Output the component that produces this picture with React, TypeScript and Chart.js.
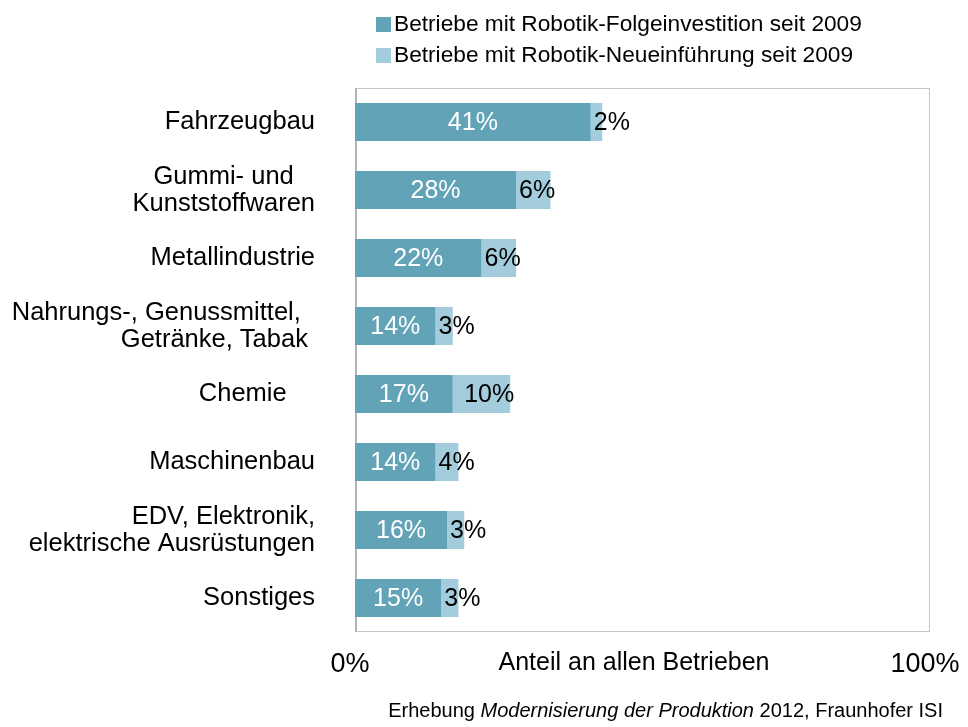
import React, { useEffect, useRef } from "react";
import { Chart, registerables } from "chart.js";

Chart.register(...registerables);

const categories: (string | string[])[] = [
  "Fahrzeugbau",
  ["Gummi- und   ", "Kunststoffwaren"],
  "Metallindustrie",
  ["Nahrungs-, Genussmittel,  ", "Getränke, Tabak "],
  "Chemie    ",
  "Maschinenbau",
  ["EDV, Elektronik,", "elektrische Ausrüstungen"],
  "Sonstiges",
];
const folgeinvestition = [41, 28, 22, 14, 17, 14, 16, 15];
const neueinfuehrung = [2, 6, 6, 3, 10, 4, 3, 3];
const seriesNames = [
  "Betriebe mit Robotik-Folgeinvestition seit 2009",
  "Betriebe mit Robotik-Neueinführung seit 2009",
];
const xTickLabels: Record<number, string> = { 0: "0%", 100: "100%" };
const axisTitle = "Anteil an allen Betrieben";

const DARK = "#62a3b7";
const LIGHT = "#a3cddc";
const FONT = "'Liberation Sans', Arial, sans-serif";

const decorPlugin = {
  id: "decor",
  beforeDatasetsDraw(chart: any) {
    const { ctx, chartArea } = chart;
    const { left, right, top, bottom } = chartArea;
    ctx.save();
    ctx.strokeStyle = "#c6c6c6";
    ctx.lineWidth = 1;
    ctx.strokeRect(left + 0.5, top + 0.5, right - left - 1, bottom - top - 1);
    ctx.strokeStyle = "#b4b4b4";
    ctx.lineWidth = 2;
    ctx.beginPath();
    ctx.moveTo(left + 1, top);
    ctx.lineTo(left + 1, bottom);
    ctx.stroke();
    ctx.restore();
  },
  afterDatasetsDraw(chart: any) {
    const { ctx } = chart;
    ctx.save();
    ctx.font = `25px ${FONT}`;
    ctx.textBaseline = "middle";
    const m0 = chart.getDatasetMeta(0);
    const m1 = chart.getDatasetMeta(1);
    ctx.textAlign = "center";
    m0.data.forEach((bar: any, i: number) => {
      const txt = folgeinvestition[i] + "%";
      ctx.fillStyle = "#ffffff";
      ctx.fillText(txt, (bar.base + bar.x) / 2, bar.y + 1);
    });
    ctx.textAlign = "left";
    m1.data.forEach((bar: any, i: number) => {
      const txt = neueinfuehrung[i] + "%";
      const w = ctx.measureText(txt).width;
      const start = Math.min(bar.base, bar.x);
      const end = Math.max(bar.base, bar.x);
      const lx = Math.max(start + 3, end - w + 4);
      ctx.fillStyle = "#000000";
      ctx.fillText(txt, lx, bar.y + 1);
    });
    ctx.restore();
  },
  afterDraw(chart: any) {
    const { ctx } = chart;
    ctx.save();
    // legend
    ctx.font = `22.7px ${FONT}`;
    ctx.textBaseline = "middle";
    ctx.textAlign = "left";
    const colors = [DARK, LIGHT];
    const rows = [24, 55];
    seriesNames.forEach((name, i) => {
      ctx.fillStyle = colors[i];
      ctx.fillRect(376, rows[i] - 7, 15, 15);
      ctx.fillStyle = "#000000";
      ctx.fillText(name, 394, rows[i] + 1);
    });
    // axis title on tick line
    ctx.font = `25px ${FONT}`;
    ctx.textAlign = "center";
    ctx.fillText(axisTitle, 634, 663);
    // footer
    ctx.textAlign = "right";
    const parts: [string, string][] = [
      ["Erhebung ", "normal"],
      ["Modernisierung der Produktion", "italic"],
      [" 2012, Fraunhofer ISI", "normal"],
    ];
    let x = 943;
    for (let k = parts.length - 1; k >= 0; k--) {
      const [t, style] = parts[k];
      ctx.font = `${style} 20px ${FONT}`;
      ctx.fillText(t, x, 711);
      x -= ctx.measureText(t).width;
    }
    ctx.restore();
  },
};

export default function App() {
  const ref = useRef<HTMLCanvasElement>(null);
  useEffect(() => {
    if (!ref.current) return;
    const chart = new Chart(ref.current, {
      type: "bar",
      data: {
        labels: categories,
        datasets: [
          {
            label: seriesNames[0],
            data: folgeinvestition,
            backgroundColor: DARK,
            barPercentage: 0.56,
            categoryPercentage: 1,
          },
          {
            label: seriesNames[1],
            data: neueinfuehrung,
            backgroundColor: LIGHT,
            barPercentage: 0.56,
            categoryPercentage: 1,
          },
        ],
      },
      options: {
        indexAxis: "y",
        animation: false,
        responsive: true,
        maintainAspectRatio: false,
        layout: { padding: { top: 88, right: 38, bottom: 0, left: 0 } },
        plugins: {
          legend: { display: false },
          tooltip: { enabled: false },
        },
        scales: {
          x: {
            stacked: true,
            min: 0,
            max: 100,
            grid: { display: false, drawTicks: false },
            border: { display: false },
            afterFit: (scale: any) => {
              scale.height = 95;
              scale.paddingLeft = 0;
              scale.paddingRight = 0;
            },
            ticks: {
              stepSize: 100,
              padding: 16,
              labelOffset: -5,
              color: "#000000",
              maxRotation: 0,
              font: { family: FONT, size: 27 },
              callback: (v: any) => xTickLabels[v as number] ?? "",
            },
          },
          y: {
            stacked: true,
            grid: { display: false, drawTicks: false },
            border: { display: false },
            afterFit: (scale: any) => {
              scale.width = 355;
              scale.paddingTop = 0;
              scale.paddingBottom = 0;
            },
            ticks: {
              padding: 40,
              color: "#000000",
              font: { family: FONT, size: 25.5, lineHeight: 1.06 },
            },
          },
        },
      },
      plugins: [decorPlugin],
    });
    return () => chart.destroy();
  }, []);
  return (
    <div style={{ position: "fixed", left: 0, top: 0, width: 968, height: 727, background: "#fff" }}>
      <canvas ref={ref} />
    </div>
  );
}
